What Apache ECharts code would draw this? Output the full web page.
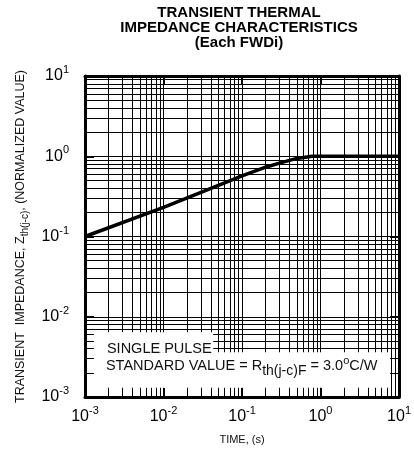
<!DOCTYPE html>
<html>
<head>
<meta charset="utf-8">
<script src="https://cdn.jsdelivr.net/npm/echarts@6/dist/echarts.min.js"></script>
<style>
  html, body { margin: 0; padding: 0; background: #fff; }
  #chart { width: 414px; height: 454px; }
</style>
</head>
<body>
<div id="chart"></div>
<script>
// Normalized transient thermal impedance Zth(j-c) of each FWDi versus pulse time (s)
const timeValues = [0.001, 0.01, 0.03, 0.1, 0.2, 0.3, 0.5, 0.78, 10];
const impedanceValues = [0.1, 0.23, 0.355, 0.57, 0.73, 0.82, 0.94, 1.0, 1.0];
const timeRange = [0.001, 10];
const impedanceRange = [0.001, 10];
const titleLines = ['TRANSIENT THERMAL', 'IMPEDANCE CHARACTERISTICS', '(Each FWDi)'];

const FONT = '"Liberation Sans", Arial, sans-serif';

// "10" with the decade exponent raised
const decadeLabel = v => '{b|10}{sup|' + Math.round(Math.log10(v)) + '}';
const decadeRich = {
  b: { fontSize: 16, color: '#000', fontFamily: FONT },
  sup: { fontSize: 11, color: '#000', fontFamily: FONT, padding: [0, 0, 12, 0] }
};

const gridLine = { color: '#000', width: 1 };

function logAxis(range, position, main) {
  return {
    type: 'log',
    logBase: 10,
    min: range[0],
    max: range[1],
    position: position,
    axisLine: { show: true, onZero: false, lineStyle: { color: '#000', width: 3 } },
    axisTick: { show: true, inside: true, length: 9, lineStyle: { color: '#000', width: 2 } },
    minorTick: { show: false, splitNumber: 9 },
    axisLabel: main ? {
      show: true,
      formatter: decadeLabel,
      rich: decadeRich,
      margin: position === 'bottom' ? 8 : 16
    } : { show: false },
    splitLine: { show: main, lineStyle: gridLine },
    minorSplitLine: { show: main, lineStyle: gridLine },
    splitNumber: 4
  };
}

const xMain = logAxis(timeRange, 'bottom', true);
xMain.name = 'TIME, (s)';
xMain.nameLocation = 'middle';
xMain.nameGap = 37;
xMain.nameTextStyle = { fontSize: 11, color: '#111', fontFamily: FONT };

const yMain = logAxis(impedanceRange, 'left', true);
yMain.name = 'TRANSIENT  IMPEDANCE, Z{sub|th(j-c)}, (NORMALIZED VALUE)';
yMain.nameLocation = 'middle';
yMain.nameRotate = 90;
yMain.nameGap = 55;
yMain.nameTextStyle = {
  fontSize: 12.5, color: '#111', fontFamily: FONT,
  rich: { sub: { fontSize: 10, color: '#111', fontFamily: FONT, padding: [9, 0, 0, 0] } }
};

const noteText = {
  fontSize: 14.5, color: '#111', fontFamily: FONT
};

const option = {
  animation: false,
  backgroundColor: '#fff',
  title: {
    text: titleLines.join('\n'),
    left: 239,
    top: 5,
    padding: 0,
    textAlign: 'center',
    textStyle: { fontSize: 15, fontWeight: 'bold', lineHeight: 15, color: '#000', fontFamily: FONT }
  },
  grid: { left: 85, right: 10, top: 76, bottom: 57, containLabel: false },
  xAxis: [xMain, logAxis(timeRange, 'top', false)],
  yAxis: [yMain, logAxis(impedanceRange, 'right', false)],
  series: [{
    type: 'line',
    xAxisIndex: 0,
    yAxisIndex: 0,
    data: timeValues.map((t, i) => [t, impedanceValues[i]]),
    showSymbol: false,
    lineStyle: { color: '#000', width: 3.5 },
    z: 4,
    markArea: {
      silent: true,
      itemStyle: { color: '#fff', borderWidth: 0 },
      data: [
        [
          {
            name: 'SINGLE PULSE',
            coord: [0.0013, 0.0064],
            label: { show: true, position: [13, 9], ...noteText }
          },
          { coord: [0.043, 0.0036] }
        ],
        [
          {
            name: 'STANDARD',
            coord: [0.0013, 0.0036],
            label: {
              show: true,
              position: [12, 1],
              formatter: 'STANDARD VALUE = R{sub|th(j-c)F} = 3.0{sup|o}C/W',
              ...noteText,
              rich: {
                sub: { fontSize: 14, color: '#111', fontFamily: FONT, padding: [11, 0, 0, 0] },
                sup: { fontSize: 11, color: '#111', fontFamily: FONT, padding: [0, 0, 10, 0] }
              }
            }
          },
          { coord: [7.7, 0.0013] }
        ]
      ]
    }
  }]
};

const chart = echarts.init(document.getElementById('chart'), null, { renderer: 'canvas' });
chart.setOption(option);
</script>
</body>
</html>
